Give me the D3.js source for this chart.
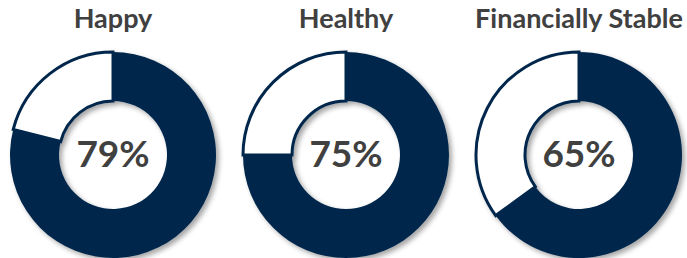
<!DOCTYPE html>
<html>
<head>
<meta charset="utf-8">
<script src="https://cdn.jsdelivr.net/npm/d3@7"></script>
<style>
  body { margin: 0; background: #fff; }
</style>
</head>
<body>
<svg id="chart" width="687" height="258"></svg>
<script>
var labels = ["Happy", "Healthy", "Financially Stable"];
var values = [79, 75, 65];

var svg = d3.select("#chart"),
    width = +svg.attr("width"),
    height = +svg.attr("height");

var navy = "#02284c";
var textColor = "#404040";

var defs = svg.append("defs");
var filt = defs.append("filter")
    .attr("id", "shadow")
    .attr("x", "-20%").attr("y", "-20%")
    .attr("width", "140%").attr("height", "140%");
filt.append("feDropShadow")
    .attr("dx", 3).attr("dy", 3)
    .attr("stdDeviation", 2.5)
    .attr("flood-color", "#000")
    .attr("flood-opacity", 0.35);

var x = d3.scalePoint()
    .domain(labels)
    .range([113, 579]);

var outerR = 103, innerR = 54, cy = 155;

var pie = d3.pie().sort(null).value(function(d) { return d; });
var arc = d3.arc().innerRadius(innerR).outerRadius(outerR);

var g = svg.selectAll("g.donut")
    .data(labels)
    .enter().append("g")
      .attr("class", "donut")
      .attr("transform", function(d) { return "translate(" + x(d) + "," + cy + ")"; });

// donut with shadow
g.append("g")
    .attr("filter", "url(#shadow)")
  .selectAll("path")
  .data(function(d, i) { return pie([values[i], 100 - values[i]]); })
  .enter().append("path")
    .attr("d", arc)
    .attr("fill", function(d, j) { return j === 0 ? navy : "#fff"; })
    .attr("stroke", navy)
    .attr("stroke-width", function(d, j) { return j === 0 ? 0 : 3; })
    .attr("stroke-linejoin", "miter");

g.append("text")
    .attr("text-anchor", "middle")
    .attr("y", 167 - cy)
    .attr("fill", textColor)
    .style("font-family", "Lato, 'Open Sans', sans-serif")
    .style("font-weight", "bold")
    .style("font-size", "37px")
    .text(function(d, i) { return values[i] + "%"; });

g.append("text")
    .attr("text-anchor", "middle")
    .attr("y", 28 - cy)
    .attr("fill", textColor)
    .style("font-family", "Lato, 'Open Sans', sans-serif")
    .style("font-weight", "bold")
    .style("font-size", "27px")
    .text(function(d) { return d; });
</script>
</body>
</html>
